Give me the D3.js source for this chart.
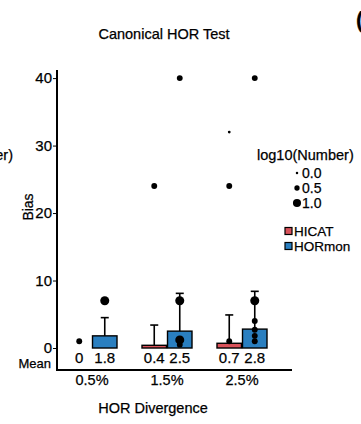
<!DOCTYPE html>
<html>
<head>
<meta charset="utf-8">
<script src="https://cdn.jsdelivr.net/npm/d3@7"></script>
<style>
  body { margin: 0; background: #fff; }
  text { font-family: "Liberation Sans", Arial, sans-serif; fill: #000; stroke: #000; stroke-width: 0.25px; }
</style>
</head>
<body>
<script>
// data
var groups = ["0.5%", "1.5%", "2.5%"];
var methods = ["HICAT", "HORmon"];
var hicatMean = [0, 0.4, 0.7];
var hormonMean = [1.8, 2.5, 2.8];
var hicatUpper = [0, 3.4, 4.9];
var hormonUpper = [4.5, 8.1, 8.4];
var meanLabels = [["0", "1.8"], ["0.4", "2.5"], ["0.7", "2.8"]];
var yTicks = [0, 10, 20, 30, 40];
var sizeLevels = [0.0, 0.5, 1.0];
// individual points: group, method, bias, log10(number)
var points = [
  ["0.5%", "HICAT", 1, 0.5],
  ["0.5%", "HORmon", 7, 1.0],
  ["1.5%", "HICAT", 24, 0.5],
  ["1.5%", "HORmon", 40, 0.5],
  ["1.5%", "HORmon", 7, 1.0],
  ["1.5%", "HORmon", 1.2, 1.0],
  ["1.5%", "HORmon", 0.5, 0.5],
  ["2.5%", "HICAT", 32, 0.0],
  ["2.5%", "HICAT", 24, 0.5],
  ["2.5%", "HICAT", 1, 0.5],
  ["2.5%", "HORmon", 40, 0.5],
  ["2.5%", "HORmon", 7, 1.0],
  ["2.5%", "HORmon", 4, 0.5],
  ["2.5%", "HORmon", 2.7, 0.5],
  ["2.5%", "HORmon", 1.8, 0.5],
  ["2.5%", "HORmon", 1, 0.5]
];

var colors = { HICAT: "#d9525a", HORmon: "#2a7fc0" };

var svg = d3.select("body").append("svg")
  .attr("width", 361)
  .attr("height", 424);

var x = d3.scaleBand().domain(groups).range([54.5, 279.5]);
var xm = d3.scaleBand().domain(methods).range([12.5, 62.5]).paddingInner(0.04);
var y = d3.scaleLinear().domain([-3.26, 41.2]).range([370, 70]);
var r = d3.scaleLinear().domain([0, 1]).range([1.4, 4.5]);

// title
svg.append("text")
  .attr("x", 164).attr("y", 39)
  .attr("text-anchor", "middle")
  .style("font-size", "14.5px")
  .text("Canonical HOR Test");

// bars
var barData = [];
groups.forEach(function(g, i) {
  barData.push({ g: g, m: "HICAT", v: hicatMean[i], up: hicatUpper[i] });
  barData.push({ g: g, m: "HORmon", v: hormonMean[i], up: hormonUpper[i] });
});

function cx(d) { return x(d.g) + xm(d.m) + xm.bandwidth() / 2; }

svg.append("g").selectAll("rect")
  .data(barData)
  .enter().append("rect")
  .attr("x", function(d) { return x(d.g) + xm(d.m); })
  .attr("width", xm.bandwidth())
  .attr("y", function(d) { return y(d.v); })
  .attr("height", function(d) { return y(0) - y(d.v); })
  .attr("fill", function(d) { return colors[d.m]; })
  .attr("stroke", "#000")
  .attr("stroke-width", 1.4);

// error bars (upper only)
var err = svg.append("g").selectAll("g")
  .data(barData.filter(function(d) { return d.up > d.v; }))
  .enter().append("g")
  .attr("stroke", "#000")
  .attr("stroke-width", 1.6);
err.append("line")
  .attr("x1", cx).attr("x2", cx)
  .attr("y1", function(d) { return y(d.v); })
  .attr("y2", function(d) { return y(d.up); });
err.append("line")
  .attr("x1", function(d) { return cx(d) - 4; })
  .attr("x2", function(d) { return cx(d) + 4; })
  .attr("y1", function(d) { return y(d.up); })
  .attr("y2", function(d) { return y(d.up); });

// points
svg.append("g").selectAll("circle")
  .data(points)
  .enter().append("circle")
  .attr("cx", function(d) { return cx({ g: d[0], m: d[1] }); })
  .attr("cy", function(d) { return y(d[2]); })
  .attr("r", function(d) { return r(d[3]); })
  .attr("fill", "#000");

// axis lines
svg.append("line")
  .attr("x1", 57).attr("x2", 57).attr("y1", 70).attr("y2", 371)
  .attr("stroke", "#000").attr("stroke-width", 2);
svg.append("line")
  .attr("x1", 56).attr("x2", 292).attr("y1", 370).attr("y2", 370)
  .attr("stroke", "#000").attr("stroke-width", 2);

// y axis
var yAxis = svg.append("g")
  .attr("transform", "translate(56,0)")
  .call(d3.axisLeft(y).tickValues(yTicks).tickSize(3).tickPadding(1));
yAxis.select(".domain").remove();
yAxis.selectAll("text").style("font-size", "15px").attr("fill", "#000");

// x axis labels
var xAxis = svg.append("g")
  .attr("transform", "translate(0,373)")
  .call(d3.axisBottom(x).tickSize(0).tickPadding(2));
xAxis.select(".domain").remove();
xAxis.selectAll("text").style("font-size", "14.5px").attr("fill", "#000");

// mean row
svg.append("text")
  .attr("x", 51).attr("y", 368)
  .attr("text-anchor", "end")
  .style("font-size", "13px")
  .text("Mean");
var labelData = [];
groups.forEach(function(g, i) {
  labelData.push({ g: g, m: "HICAT", t: meanLabels[i][0] });
  labelData.push({ g: g, m: "HORmon", t: meanLabels[i][1] });
});
svg.append("g").selectAll("text")
  .data(labelData)
  .enter().append("text")
  .attr("x", cx)
  .attr("y", 363)
  .attr("text-anchor", "middle")
  .style("font-size", "15px")
  .text(function(d) { return d.t; });

// axis titles
svg.append("text")
  .attr("transform", "translate(33,207) rotate(-90)")
  .attr("text-anchor", "middle")
  .style("font-size", "14px")
  .text("Bias");
svg.append("text")
  .attr("x", 153).attr("y", 413)
  .attr("text-anchor", "middle")
  .style("font-size", "14.5px")
  .text("HOR Divergence");

// size legend
svg.append("text")
  .attr("x", 257).attr("y", 160)
  .style("font-size", "14.5px")
  .text("log10(Number)");
var sl = svg.append("g").selectAll("g")
  .data(sizeLevels)
  .enter().append("g")
  .attr("transform", function(d, i) { return "translate(0," + (173 + i * 15) + ")"; });
sl.append("circle")
  .attr("cx", 297).attr("cy", 0)
  .attr("r", function(d) { return r(d) * 0.9; })
  .attr("fill", "#000");
sl.append("text")
  .attr("x", 302).attr("y", 5)
  .style("font-size", "14px")
  .text(function(d) { return d.toFixed(1); });

// fill legend
var fl = svg.append("g").selectAll("g")
  .data(methods)
  .enter().append("g")
  .attr("transform", function(d, i) { return "translate(0," + (231 + i * 15) + ")"; });
fl.append("rect")
  .attr("x", 285).attr("y", -3.5)
  .attr("width", 7).attr("height", 7)
  .attr("fill", function(d) { return colors[d]; })
  .attr("stroke", "#000").attr("stroke-width", 1.2);
fl.append("text")
  .attr("x", 294).attr("y", 4.5)
  .style("font-size", "13.5px")
  .text(function(d) { return d; });

// clipped fragments of neighbouring panels
svg.append("text")
  .attr("x", 13).attr("y", 160)
  .attr("text-anchor", "end")
  .style("font-size", "14.5px")
  .text("log10(Number)");
svg.append("text")
  .attr("x", 356).attr("y", 27)
  .style("font-size", "22px")
  .style("font-weight", "bold")
  .text("(");
</script>
</body>
</html>
